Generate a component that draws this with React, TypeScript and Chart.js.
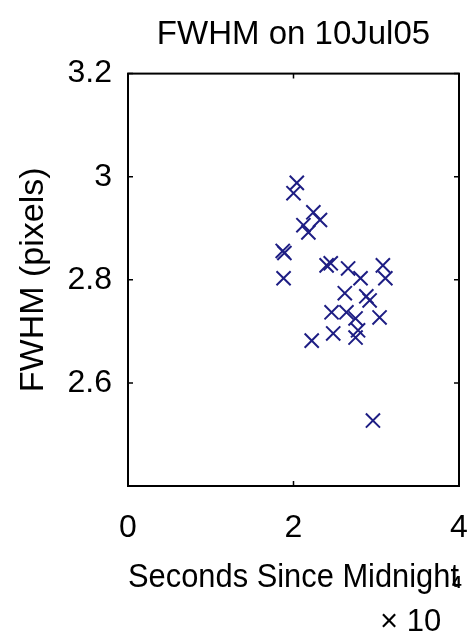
import React, { useEffect, useRef } from "react";
import { Chart, registerables } from "chart.js";

Chart.register(...registerables);

// Seconds since midnight (x 10^4)
const secondsSinceMidnight: number[] = [
  2.04, 2.0, 2.24, 2.32, 2.12, 2.18, 1.87, 1.89, 1.88, 2.4, 2.45, 2.66, 2.81, 3.08,
  3.11, 2.62, 2.92, 2.88, 3.04, 2.46, 2.64, 2.75, 2.78, 2.75, 2.48, 2.22, 2.96,
];
// FWHM (pixels)
const fwhm: number[] = [
  2.988, 2.968, 2.931, 2.916, 2.906, 2.892, 2.856, 2.852, 2.803, 2.828, 2.832, 2.822,
  2.803, 2.828, 2.803, 2.774, 2.76, 2.768, 2.727, 2.737, 2.737, 2.725, 2.702, 2.688,
  2.696, 2.682, 2.527,
];
const xTicks: number[] = [0, 2, 4];
const yTicks: number[] = [2.4, 2.6, 2.8, 3.0, 3.2];
const hiddenYTick = 2.4;

const titleText = "FWHM on 10Jul05";
const xTitle = "Seconds Since Midnight";
const yTitle = "FWHM (pixels)";
const exponentBase = "\u00D7 10";
const exponent = "4";

const FONT = "'Liberation Sans', Arial, sans-serif";

export default function App() {
  const ref = useRef<HTMLCanvasElement | null>(null);

  useEffect(() => {
    document.body.style.margin = "0";
    const canvas = ref.current;
    if (!canvas) return;

    const boxPlugin = {
      id: "matlabBox",
      afterDraw(chart: any) {
        const { ctx, chartArea } = chart;
        const { left, right, top, bottom } = chartArea;
        const xs = chart.scales.x;
        const ys = chart.scales.y;
        ctx.save();
        ctx.strokeStyle = "#000";
        ctx.lineWidth = 2;
        ctx.strokeRect(left, top, right - left, bottom - top);
        ctx.lineWidth = 1.5;
        const tl = 5;
        ctx.beginPath();
        xTicks.forEach((v) => {
          const px = xs.getPixelForValue(v);
          ctx.moveTo(px, bottom);
          ctx.lineTo(px, bottom - tl);
          ctx.moveTo(px, top);
          ctx.lineTo(px, top + tl);
        });
        yTicks.forEach((v) => {
          const py = ys.getPixelForValue(v);
          ctx.moveTo(left, py);
          ctx.lineTo(left + tl, py);
          ctx.moveTo(right, py);
          ctx.lineTo(right - tl, py);
        });
        ctx.stroke();

        // x 10^4 multiplier
        ctx.fillStyle = "#000";
        ctx.textBaseline = "alphabetic";
        ctx.textAlign = "left";
        ctx.font = `31px ${FONT}`;
        ctx.fillText(exponentBase, 380, 631);
        ctx.font = `bold 17px ${FONT}`;
        ctx.fillText(exponent, 452, 588);
        ctx.restore();
      },
    };

    const chart = new Chart(canvas, {
      type: "scatter",
      data: {
        datasets: [
          {
            data: secondsSinceMidnight.map((x, i) => ({ x, y: fwhm[i] })),
            pointStyle: "crossRot",
            pointRadius: 10,
            pointBorderWidth: 2,
            borderColor: "#1e1e84",
            backgroundColor: "#1e1e84",
            showLine: false,
          },
        ],
      },
      options: {
        responsive: false,
        animation: false,
        layout: { padding: { left: 0, right: 9, top: 0, bottom: 0 } },
        plugins: {
          legend: { display: false },
          tooltip: { enabled: false },
          title: {
            display: true,
            text: titleText,
            fullSize: false,
            color: "#000",
            font: { family: FONT, size: 33, weight: "normal" },
            padding: { top: 15, bottom: 19 },
          },
        },
        scales: {
          x: {
            type: "linear",
            min: 0,
            max: 4,
            afterBuildTicks: (s: any) => {
              s.ticks = xTicks.map((value) => ({ value }));
            },
            afterFit: (s: any) => {
              s.height = 147;
              s.paddingLeft = 0;
              s.paddingRight = 0;
            },
            grid: { display: false, drawTicks: false },
            border: { display: false },
            ticks: {
              color: "#000",
              padding: 23,
              maxRotation: 0,
              font: { family: FONT, size: 32 },
              callback: (v: any) => String(v),
            },
            title: {
              display: true,
              text: xTitle,
              color: "#000",
              font: { family: FONT, size: 33 },
              padding: { top: 0, bottom: 35 },
            },
          },
          y: {
            type: "linear",
            min: 2.4,
            max: 3.2,
            afterBuildTicks: (s: any) => {
              s.ticks = yTicks.map((value) => ({ value }));
            },
            afterFit: (s: any) => {
              s.width = 128;
              s.paddingTop = 0;
              s.paddingBottom = 0;
            },
            grid: { display: false, drawTicks: false },
            border: { display: false },
            ticks: {
              color: "#000",
              padding: 16,
              font: { family: FONT, size: 32 },
              callback: (v: any) =>
                Math.abs(Number(v) - hiddenYTick) < 1e-9
                  ? ""
                  : String(Number(Number(v).toFixed(1))),
            },
            title: {
              display: true,
              text: yTitle,
              color: "#000",
              font: { family: FONT, size: 34 },
              padding: { top: 13, bottom: 0 },
            },
          },
        },
      },
      plugins: [boxPlugin],
    });

    return () => chart.destroy();
  }, []);

  return (
    <canvas
      ref={ref}
      width={471}
      height={633}
      style={{ display: "block", width: 471, height: 633 }}
    />
  );
}
